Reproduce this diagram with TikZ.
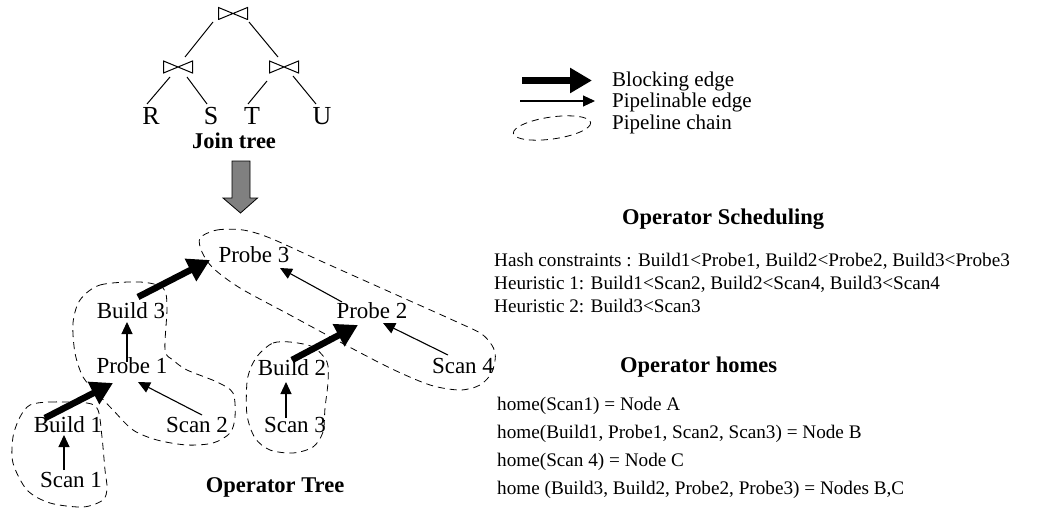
\documentclass[tikz,border=0pt]{standalone}
\usepackage{fontspec}
\setmainfont{Liberation Serif}
\usetikzlibrary{arrows.meta}

\newcommand{\setsize}[1]{\fontsize{#1}{#1}\selectfont}

\tikzset{
  op/.style={inner sep=0pt, font=\setsize{23}},
  rel/.style={inner sep=0pt, font=\setsize{26}},
  heading/.style={inner sep=0pt, font=\setsize{22.5}\bfseries},
  rtext/.style={inner sep=0pt, font=\setsize{19.2}},
  legtext/.style={inner sep=0pt, font=\setsize{21}},
  joinop/.style={minimum width=30pt, minimum height=13pt, inner sep=0pt,
    path picture={\draw[line width=1pt]
      ([shift={(0.5pt,-0.5pt)}]path picture bounding box.north west) --
      ([shift={(-0.5pt,0.5pt)}]path picture bounding box.south east) --
      ([shift={(-0.5pt,-0.5pt)}]path picture bounding box.north east) --
      ([shift={(0.5pt,0.5pt)}]path picture bounding box.south west) -- cycle;}},
  treeline/.style={line width=1pt},
  blocking/.style={line width=6.5pt, -{Triangle[length=22pt,width=24pt]}},
  pipe/.style={line width=1.1pt, -{Triangle[length=12pt,width=11pt]}},
  chain/.style={line width=0.8pt, dash pattern=on 7pt off 5pt},
}

\begin{document}
\begin{tikzpicture}[x=1pt, y=-1pt]
    \useasboundingbox (0,0) rectangle (1057,508);

    \node[joinop] (jtop) at (233,13.5) {};
    \node[joinop] (jleft) at (178,67) {};
    \node[joinop] (jright) at (284,67) {};

    \node[rel] (R) at (151,116) {R};
    \node[rel] (S) at (211,116) {S};
    \node[rel] (T) at (252,116) {T};
    \node[rel] (U) at (322,116) {U};
    \node[heading, anchor=base] (jointree) at (234,148) {Join tree};

    \draw[treeline] ([shift={(-20,8.5)}]jtop.center) -- ([shift={(7,-10)}]jleft.center);
    \draw[treeline] ([shift={(16,8.5)}]jtop.center) -- ([shift={(-6,-10)}]jright.center);
    \draw[treeline] ([shift={(-8,10)}]jleft.center) -- ([shift={(-4,-12)}]R.center);
    \draw[treeline] ([shift={(9,10)}]jleft.center) -- ([shift={(-4,-12)}]S.center);
    \draw[treeline] ([shift={(-17,14)}]jright.center) -- ([shift={(-4,-12)}]T.center);
    \draw[treeline] ([shift={(9,9)}]jright.center) -- ([shift={(-6,-12)}]U.center);

    \draw[line width=0.8pt, fill=black!50] (232,161) -- (250,161) -- (250,198) -- (257.5,198)
        -- (240.5,213) -- (223,198) -- (232,198) -- cycle;

    \node[op] (probe3) at (254,254.5) {Probe 3};
    \node[op] (build3) at (131,311) {Build 3};
    \node[op] (probe1) at (132,366) {Probe 1};
    \node[op] (build1) at (68,425) {Build 1};
    \node[op] (scan1) at (71,480) {Scan 1};
    \node[op] (scan2) at (197,425) {Scan 2};
    \node[op] (probe2) at (372,311) {Probe 2};
    \node[op] (build2) at (292,368) {Build 2};
    \node[op] (scan3) at (295,425) {Scan 3};
    \node[op] (scan4) at (463,366) {Scan 4};
    \node[heading, anchor=base] (optree) at (275,492) {Operator Tree};

    \draw[pipe] ([shift={(-7,-10)}]scan1.center) -- ([shift={(-4,10)}]build1.center);
    \draw[blocking] ([shift={(-23,-7)}]build1.center) -- ([shift={(-19,17)}]probe1.center);
    \draw[pipe] ([shift={(-5,-4)}]probe1.center) -- ([shift={(-4,11)}]build3.center);
    \draw[pipe] ([shift={(5,-10)}]scan2.center) -- ([shift={(6,16)}]probe1.center);
    \draw[blocking] ([shift={(7,-14)}]build3.center) -- ([shift={(-44,5.5)}]probe3.center);
    \draw[pipe] ([shift={(-9,-7)}]scan3.center) -- ([shift={(-6,14)}]build2.center);
    \draw[blocking] ([shift={(0,-8)}]build2.center) -- ([shift={(-14,14)}]probe2.center);
    \draw[pipe] ([shift={(-30,-9)}]probe2.center) -- ([shift={(26,13.5)}]probe3.center);
    \draw[pipe] ([shift={(-15,-11)}]scan4.center) -- ([shift={(11,12)}]probe2.center);

    \draw[chain] plot[smooth cycle, tension=0.5] coordinates {(30,405) (50,402) (87,403) (98,410)
        (102,437) (105,470) (107,488) (103,500) (83,507) (50,503) (27,490) (13,463) (13,437) (20,417)};
    \draw[chain] plot[smooth cycle, tension=0.5] coordinates {(80,300) (100,285) (140,282) (163,288)
        (167,307) (165,350) (173,360) (187,370) (217,382) (233,393) (235,417) (230,433) (213,443)
        (187,445) (157,440) (133,430) (113,410) (97,393) (83,377) (75,353) (73,323)};
    \draw[chain] plot[smooth cycle, tension=0.5] coordinates {(260,353) (273,343) (290,342) (313,347)
        (327,362) (328,382) (325,408) (323,432) (313,447) (293,453) (270,450) (255,438) (247,415)
        (247,382) (252,365)};
    \draw[chain] plot[smooth cycle, tension=0.5] coordinates {(200,238) (217,230) (243,230) (270,238)
        (323,262) (390,292) (457,322) (483,335) (495,352) (492,372) (480,385) (460,390) (430,385)
        (390,368) (340,342) (290,315) (240,288) (213,268) (202,252)};

    \coordinate (blk-a) at (522,80.5);
    \coordinate (blk-b) at (592,80.5);
    \coordinate (pip-a) at (520,101);
    \coordinate (pip-b) at (595,101);
    \draw[blocking] (blk-a) -- (blk-b);
    \draw[pipe] (pip-a) -- (pip-b);
    \draw[chain, rotate around={8:(552,128)}] (552,128) ellipse [x radius=39, y radius=11];
    \node[legtext, anchor=base west] (lblock) at (612,87) {Blocking edge};
    \node[legtext, anchor=base west] (lpipe) at (612,108) {Pipelinable edge};
    \node[legtext, anchor=base west] (lchain) at (612,130) {Pipeline chain};

    \node[heading, anchor=base west] (sched) at (622,224) {Operator Scheduling};
    \node[rtext, anchor=base west] (hash) at (494,266) {Hash constraints : Build1<Probe1, Build2<Probe2, Build3<Probe3};
    \node[rtext, anchor=base west] (heur1) at (494,289) {Heuristic 1: Build1<Scan2, Build2<Scan4, Build3<Scan4};
    \node[rtext, anchor=base west] (heur2) at (494,312) {Heuristic 2: Build3<Scan3};

    \node[heading, anchor=base west] (homes) at (620,372) {Operator homes};
    \node[rtext, anchor=base west] (home1) at (497,410) {home(Scan1) = Node A};
    \node[rtext, anchor=base west] (home2) at (497,438) {home(Build1, Probe1, Scan2, Scan3) = Node B};
    \node[rtext, anchor=base west] (home3) at (497,466) {home(Scan 4) = Node C};
    \node[rtext, anchor=base west] (home4) at (497,494) {home (Build3, Build2, Probe2, Probe3) = Nodes B,C};
\end{tikzpicture}
\end{document}
